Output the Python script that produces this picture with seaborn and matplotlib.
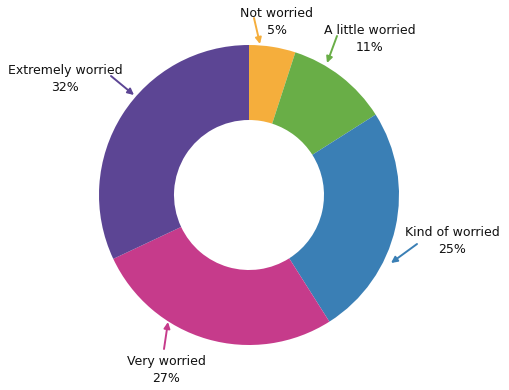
import matplotlib
matplotlib.use("Agg")
import matplotlib.pyplot as plt
import seaborn as sns

# worry levels, clockwise from the top
categories = ["Not worried", "A little worried", "Kind of worried", "Very worried", "Extremely worried"]
percents = [5, 11, 25, 27, 32]
colors = ["#F5AE3C", "#69AE47", "#3A7FB5", "#C63B8B", "#5C4594"]

sns.set_theme(style="white")
plt.rcParams["font.family"] = ["DejaVu Sans"]

fig = plt.figure(figsize=(5.1, 3.9), dpi=100)
W, H = 510, 390
# donut: centre (249, 195) px, radius 150 px
ax = fig.add_axes([99 / W, 45 / H, 300 / W, 300 / H])
ax.pie(percents, colors=sns.color_palette(colors), startangle=90, counterclock=False,
       radius=1, wedgeprops=dict(width=0.5, edgecolor="none"))
ax.set_xlim(-1, 1)
ax.set_ylim(-1, 1)
ax.axis("off")

# label text centre and arrow (tail, tip) in pixel coords, top-left origin
label_pos = [(277, 22), (370, 39), (452, 241), (166, 370), (65, 79)]
arrows = [((254, 18), (260, 44)), ((337, 36), (327, 63)), ((417, 244), (391, 263)),
          ((164, 349), (168, 322)), ((111, 76), (134, 95))]

for cat, pct, col, (tx, ty), (tail, tip) in zip(categories, percents, colors, label_pos, arrows):
    fig.text(tx / W, 1 - ty / H, f"{cat}\n{pct}%", ha="center", va="center",
             fontsize=9, color="#111111", linespacing=1.45)
    ax.annotate("", xy=(tip[0], H - tip[1]), xycoords="figure pixels",
                xytext=(tail[0], H - tail[1]), textcoords="figure pixels",
                arrowprops=dict(arrowstyle="-|>", color=col, lw=1.4, mutation_scale=9,
                                shrinkA=0, shrinkB=0))

fig.savefig("out.png", dpi=100)
